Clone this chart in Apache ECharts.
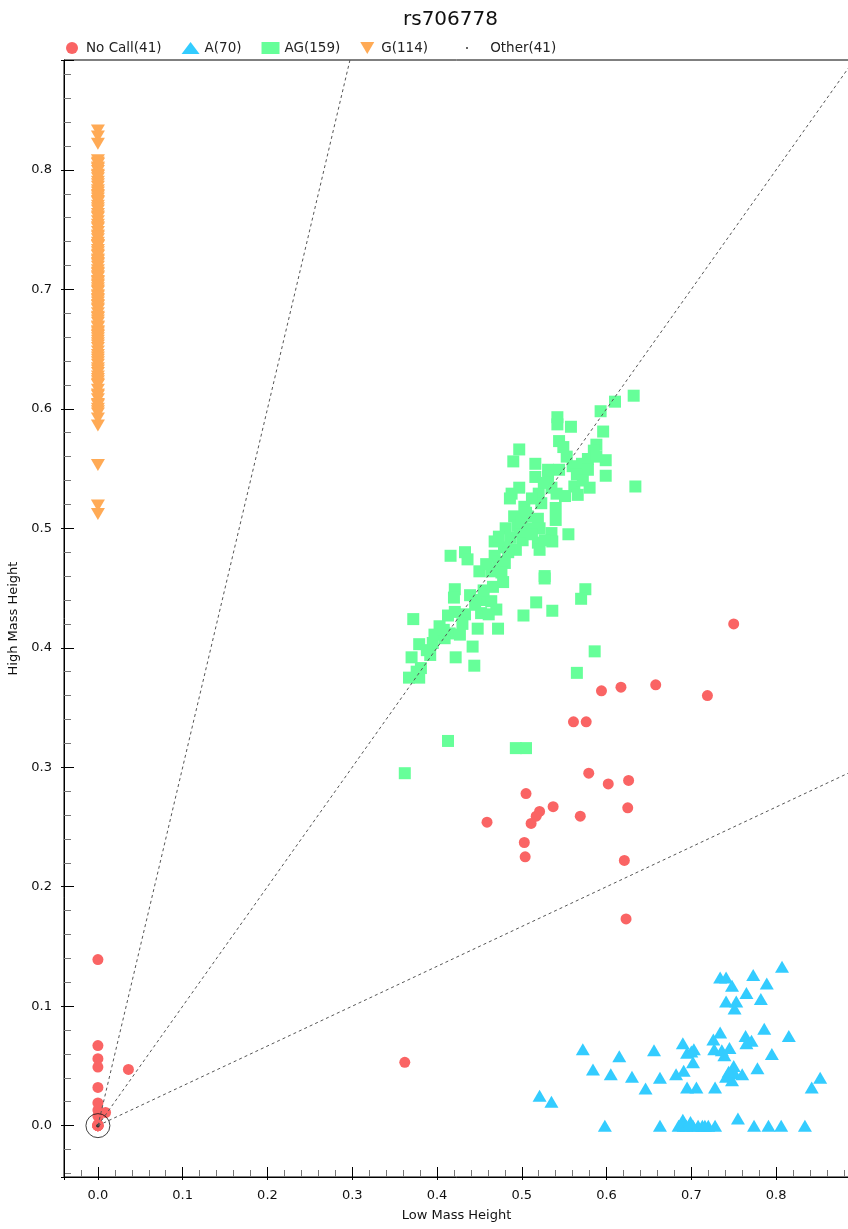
<!DOCTYPE html>
<html>
<head>
<meta charset="utf-8">
<script src="https://cdn.jsdelivr.net/npm/echarts@6/dist/echarts.min.js"></script>
<style>
html, body { margin: 0; padding: 0; background: #fff; }
#main { width: 848px; height: 1229px; }
</style>
</head>
<body>
<div id="main"></div>
<script>
var chartDom = document.getElementById('main');
var myChart = echarts.init(chartDom);
var option;

const FONT = 'DejaVu Sans';

const NAME_NOCALL = 'No Call(41)';
const NAME_A = 'A(70)';
const NAME_AG = 'AG(159)';
const NAME_G = 'G(114)';
const NAME_OTHER = 'Other(41)';

// [low mass height, high mass height]
const noCallPoints = [
  [0.750, 0.420], [0.719, 0.360], [0.658, 0.369], [0.617, 0.367], [0.594, 0.364],
  [0.561, 0.338], [0.576, 0.338], [0.579, 0.295], [0.602, 0.286], [0.626, 0.289],
  [0.505, 0.278], [0.537, 0.267], [0.625, 0.266], [0.521, 0.263], [0.517, 0.259],
  [0.511, 0.253], [0.569, 0.259], [0.459, 0.254], [0.503, 0.237], [0.504, 0.225],
  [0.621, 0.222], [0.623, 0.173], [0.362, 0.053], [0.036, 0.047],
  [0, 0.139], [0, 0.067], [0, 0.056], [0, 0.049], [0, 0.032], [0, 0.019],
  [0, 0.013], [0.009, 0.011], [0, 0.008], [0, 0.001],
  [0, 0], [0, 0], [0, 0], [0, 0], [0, 0], [0, 0], [0, 0]
];

const aPoints = [
  [0.807, 0.133], [0.734, 0.124], [0.741, 0.124], [0.773, 0.126], [0.748, 0.117],
  [0.789, 0.119], [0.765, 0.111], [0.741, 0.104], [0.753, 0.104], [0.782, 0.106],
  [0.751, 0.098], [0.786, 0.081], [0.815, 0.075], [0.734, 0.078], [0.764, 0.075],
  [0.771, 0.071], [0.726, 0.072], [0.765, 0.069], [0.690, 0.069], [0.703, 0.064],
  [0.695, 0.061], [0.727, 0.064], [0.736, 0.063], [0.745, 0.065], [0.739, 0.059],
  [0.795, 0.060], [0.572, 0.064], [0.615, 0.058], [0.656, 0.063], [0.702, 0.053],
  [0.584, 0.047], [0.605, 0.043], [0.630, 0.041], [0.663, 0.040], [0.682, 0.043],
  [0.691, 0.046], [0.750, 0.050], [0.741, 0.041], [0.751, 0.044], [0.760, 0.043],
  [0.778, 0.048], [0.748, 0.038], [0.646, 0.031], [0.695, 0.032], [0.706, 0.032],
  [0.728, 0.032], [0.852, 0.040], [0.842, 0.032], [0.521, 0.025], [0.535, 0.020],
  [0.598, 0], [0.663, 0], [0.685, 0], [0.690, 0.005], [0.691, 0], [0.702, 0],
  [0.713, 0], [0.720, 0], [0.728, 0], [0.755, 0.006], [0.774, 0], [0.791, 0],
  [0.806, 0], [0.834, 0], [0.694, 0], [0.708, 0], [0.716, 0], [0.699, 0.003],
  [0.744, 0.045], [0.700, 0.062]
];

const agPoints = [
  [0.632, 0.611], [0.610, 0.606], [0.593, 0.598], [0.542, 0.593], [0.542, 0.587],
  [0.558, 0.585], [0.596, 0.581], [0.544, 0.573], [0.549, 0.568], [0.588, 0.570],
  [0.497, 0.566], [0.585, 0.565], [0.490, 0.556], [0.516, 0.554], [0.599, 0.557],
  [0.578, 0.558], [0.571, 0.554], [0.560, 0.552], [0.531, 0.549], [0.544, 0.549],
  [0.578, 0.549], [0.565, 0.545], [0.599, 0.544], [0.516, 0.543], [0.531, 0.543],
  [0.634, 0.535], [0.497, 0.534], [0.488, 0.529], [0.520, 0.529], [0.535, 0.534],
  [0.562, 0.535], [0.580, 0.534], [0.566, 0.528], [0.541, 0.529], [0.486, 0.525],
  [0.523, 0.521], [0.503, 0.518], [0.540, 0.517], [0.491, 0.510], [0.507, 0.510],
  [0.519, 0.508], [0.540, 0.507], [0.481, 0.500], [0.495, 0.502], [0.509, 0.500],
  [0.521, 0.500], [0.535, 0.496], [0.555, 0.495], [0.468, 0.489], [0.473, 0.493],
  [0.487, 0.492], [0.501, 0.490], [0.519, 0.488], [0.536, 0.489], [0.479, 0.484],
  [0.493, 0.482], [0.521, 0.482], [0.416, 0.477], [0.433, 0.480], [0.436, 0.474],
  [0.468, 0.477], [0.472, 0.472], [0.480, 0.471], [0.450, 0.464], [0.464, 0.464],
  [0.476, 0.463], [0.527, 0.460], [0.527, 0.458], [0.466, 0.451], [0.421, 0.449],
  [0.420, 0.442], [0.439, 0.444], [0.452, 0.440], [0.464, 0.439], [0.470, 0.432],
  [0.575, 0.449], [0.570, 0.441], [0.517, 0.438], [0.536, 0.431], [0.502, 0.427],
  [0.421, 0.430], [0.433, 0.428], [0.452, 0.429], [0.461, 0.428], [0.372, 0.424],
  [0.413, 0.427], [0.448, 0.416], [0.472, 0.416], [0.403, 0.418], [0.397, 0.411],
  [0.415, 0.412], [0.427, 0.411], [0.379, 0.403], [0.395, 0.404], [0.442, 0.401],
  [0.409, 0.408], [0.392, 0.394], [0.370, 0.392], [0.422, 0.392], [0.444, 0.385],
  [0.381, 0.383], [0.367, 0.375], [0.379, 0.375], [0.586, 0.397], [0.565, 0.379],
  [0.413, 0.322], [0.493, 0.316], [0.505, 0.316], [0.362, 0.295],
  [0.505, 0.513], [0.512, 0.495], [0.527, 0.490], [0.498, 0.497], [0.484, 0.480],
  [0.458, 0.470], [0.512, 0.525], [0.551, 0.527], [0.572, 0.540], [0.588, 0.560],
  [0.553, 0.560], [0.526, 0.538], [0.500, 0.505], [0.478, 0.455], [0.445, 0.436],
  [0.430, 0.420], [0.388, 0.398], [0.376, 0.380], [0.408, 0.415], [0.455, 0.448]
];

const gPoints = [
  0.833, 0.828, 0.822, 0.808, 0.805, 0.802, 0.799, 0.796, 0.793, 0.790,
  0.786, 0.783, 0.779, 0.776, 0.773, 0.770, 0.766, 0.763, 0.760, 0.757,
  0.754, 0.751, 0.748, 0.745, 0.742, 0.739, 0.736, 0.733, 0.731, 0.728,
  0.725, 0.722, 0.719, 0.716, 0.713, 0.710, 0.707, 0.704, 0.701, 0.698,
  0.695, 0.692, 0.689, 0.686, 0.683, 0.680, 0.676, 0.672, 0.668, 0.665,
  0.662, 0.659, 0.655, 0.651, 0.648, 0.645, 0.641, 0.637, 0.634, 0.630,
  0.627, 0.623, 0.620, 0.616, 0.612, 0.608, 0.604, 0.600, 0.596, 0.592,
  0.586, 0.553, 0.519, 0.512, 0.801, 0.795, 0.788, 0.781, 0.774, 0.768,
  0.761, 0.752, 0.744, 0.737, 0.729, 0.721, 0.714, 0.706, 0.699, 0.691,
  0.684, 0.677, 0.669, 0.661, 0.653, 0.643, 0.632, 0.621, 0.611, 0.603,
  0.598, 0.737, 0.724, 0.711, 0.703, 0.694, 0.687, 0.674, 0.664, 0.657,
  0.639, 0.625, 0.806, 0.778
].map(y => [0, y]);

const otherPoints = [[0, 0], [0, 0], [0, 0]];

// cluster boundaries drawn as rays from the origin (high / low ratio)
const ratioLines = [3, 1, 1 / 3];

const X_MIN = -0.04, X_MAX = 0.886;
const Y_MIN = -0.043, Y_MAX = 0.892;

const DOWN_TRIANGLE = 'path://M0,0L14,0L7,12Z';

function axisBase(min, max) {
  return {
    type: 'value',
    min: min,
    max: max,
    splitNumber: 9,
    gridIndex: 0,
    splitLine: { show: false }
  };
}

function mainAxis(min, max, position, name, nameGap) {
  return Object.assign(axisBase(min, max), {
    position: position,
    name: name,
    nameLocation: 'middle',
    nameGap: nameGap,
    nameTextStyle: { fontFamily: FONT, fontSize: 13, color: '#111' },
    axisLine: { show: true, onZero: false, lineStyle: { color: '#000', width: 1 } },
    axisTick: { show: true, inside: true, length: 10, lineStyle: { color: '#000' } },
    minorTick: { show: true, splitNumber: 5, length: 7, lineStyle: { color: '#777' } },
    axisLabel: {
      formatter: v => v.toFixed(1),
      showMinLabel: false,
      showMaxLabel: false,
      margin: 12,
      fontFamily: FONT,
      fontSize: 13,
      color: '#111'
    }
  });
}

function outerTickAxis(min, max, position) {
  return Object.assign(axisBase(min, max), {
    position: position,
    axisLine: { show: false, onZero: false },
    axisTick: { show: true, inside: false, length: 3, lineStyle: { color: '#000' } },
    axisLabel: { show: false }
  });
}

function scatterSeries(name, data, symbol, size, color) {
  return {
    name: name,
    type: 'scatter',
    data: data,
    symbol: symbol,
    symbolSize: size,
    itemStyle: { color: color, opacity: 1 },
    emphasis: { disabled: true }
  };
}

function ratioSeries() {
  return ratioLines.map(k => ({
    name: 'ratio ' + k.toFixed(2),
    type: 'line',
    data: [[0, 0], [X_MAX, X_MAX * k]],
    showSymbol: false,
    silent: true,
    z: 5,
    lineStyle: { color: '#555', width: 1, type: [3, 3] }
  }));
}

option = {
  animation: false,
  textStyle: { fontFamily: FONT },
  title: {
    text: 'rs706778',
    left: 398,
    top: 5,
    textStyle: { fontFamily: FONT, fontSize: 20, fontWeight: 'normal', color: '#111' }
  },
  legend: [
    {
      left: 66,
      top: 41,
      padding: 0,
      itemWidth: 18,
      itemHeight: 12,
      itemGap: 20,
      selectedMode: false,
      textStyle: { fontFamily: FONT, fontSize: 13.5, color: '#222' },
      data: [NAME_NOCALL, NAME_A, NAME_AG, { name: NAME_G, icon: DOWN_TRIANGLE }]
    },
    {
      left: 466,
      top: 41,
      padding: 0,
      itemWidth: 2,
      itemHeight: 12,
      selectedMode: false,
      formatter: name => '    ' + name,
      textStyle: { fontFamily: FONT, fontSize: 13.5, color: '#222' },
      data: [{ name: NAME_OTHER, icon: 'circle' }]
    }
  ],
  grid: {
    show: true,
    left: 64,
    top: 60,
    right: -1,
    bottom: 52,
    containLabel: false,
    outerBoundsMode: 'none',
    borderColor: '#000',
    borderWidth: 1
  },
  xAxis: [
    mainAxis(X_MIN, X_MAX, 'bottom', 'Low Mass Height', 32),
    outerTickAxis(X_MIN, X_MAX, 'bottom')
  ],
  yAxis: [
    mainAxis(Y_MIN, Y_MAX, 'left', 'High Mass Height', 38),
    outerTickAxis(Y_MIN, Y_MAX, 'left')
  ],
  series: [
    Object.assign(scatterSeries(NAME_G, gPoints, 'triangle', [14, 12], '#ffaa55'), { symbolRotate: 180 }),
    scatterSeries(NAME_AG, agPoints, 'rect', 12, '#66ff99'),
    scatterSeries(NAME_A, aPoints, 'triangle', [14, 12], '#33ccff'),
    scatterSeries(NAME_NOCALL, noCallPoints, 'circle', 11, '#fa6464'),
    scatterSeries(NAME_OTHER, otherPoints, 'circle', 3, '#333'),
    {
      name: 'origin',
      type: 'scatter',
      data: [[0, 0]],
      symbol: 'circle',
      symbolSize: 24,
      silent: true,
      z: 6,
      itemStyle: { color: 'rgba(0,0,0,0)', borderColor: '#111', borderWidth: 1 }
    }
  ].concat(ratioSeries())
};

option && myChart.setOption(option);
</script>
</body>
</html>
